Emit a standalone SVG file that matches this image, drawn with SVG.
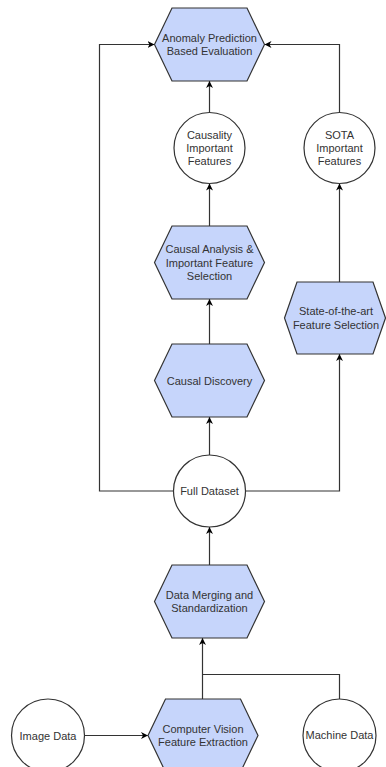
<svg xmlns="http://www.w3.org/2000/svg" width="386" height="767" viewBox="0 0 386 767">
<defs>
<marker id="arr" markerUnits="userSpaceOnUse" markerWidth="8" markerHeight="8" refX="7" refY="3.5" orient="auto">
<path d="M0,0 L7,3.5 L0,7 L2,3.5 Z" fill="#000"/>
</marker>
<style>
.hex{fill:#c6d5fb;stroke:#333;stroke-width:1.2}
.cir{fill:#fff;stroke:#333;stroke-width:1.2}
.lbl{font-family:"Liberation Sans",Arial,sans-serif;font-size:11px;fill:#333;text-anchor:middle}
.edge{fill:none;stroke:#333;stroke-width:1.2}
</style>
</defs>
<rect width="386" height="767" fill="#fff"/>
<g id="connectors">
<path class="edge" d="M209.5,455 V417" marker-end="url(#arr)"/>
<path class="edge" d="M209.5,344 V299" marker-end="url(#arr)"/>
<path class="edge" d="M209.5,226 V183.5" marker-end="url(#arr)"/>
<path class="edge" d="M209.5,112.5 V81" marker-end="url(#arr)"/>
<path class="edge" d="M173.5,491 H99.5 V44.5 H154.5" marker-end="url(#arr)"/>
<path class="edge" d="M245.5,491 H339.5 V354" marker-end="url(#arr)"/>
<path class="edge" d="M339.5,282 V183.5" marker-end="url(#arr)"/>
<path class="edge" d="M339.5,112.5 V44.5 H264.5" marker-end="url(#arr)"/>
<path class="edge" d="M209.5,565 V527" marker-end="url(#arr)"/>
<path class="edge" d="M202.5,699 V638" marker-end="url(#arr)"/>
<path class="edge" d="M339.5,699 V674.5 H202.5"/>
<path class="edge" d="M84.5,735.5 H148" marker-end="url(#arr)"/>
</g>
<g id="anomaly">
<polygon class="hex" points="154.5,44.5 172,8 247,8 264.5,44.5 247,81 172,81"/>
<text class="lbl" x="209.5" y="41.9">Anomaly Prediction</text>
<text class="lbl" x="209.5" y="55.1">Based Evaluation</text>
</g>
<g id="causality-features">
<circle class="cir" cx="209.5" cy="148" r="35.5"/>
<text class="lbl" x="209.5" y="138.8">Causality</text>
<text class="lbl" x="209.5" y="152">Important</text>
<text class="lbl" x="209.5" y="165.2">Features</text>
</g>
<g id="sota-features">
<circle class="cir" cx="339.5" cy="148" r="35.5"/>
<text class="lbl" x="339.5" y="138.8">SOTA</text>
<text class="lbl" x="339.5" y="152">Important</text>
<text class="lbl" x="339.5" y="165.2">Features</text>
</g>
<g id="causal-analysis">
<polygon class="hex" points="154.5,262.5 172,226 247,226 264.5,262.5 247,299 172,299"/>
<text class="lbl" x="209.5" y="253.3">Causal Analysis &amp;</text>
<text class="lbl" x="209.5" y="266.5">Important Feature</text>
<text class="lbl" x="209.5" y="279.7">Selection</text>
</g>
<g id="state-of-the-art">
<polygon class="hex" points="284.5,318 297,282 373,282 385.5,318 373,354 297,354"/>
<text class="lbl" x="336" y="315.4">State-of-the-art</text>
<text class="lbl" x="336" y="328.6">Feature Selection</text>
</g>
<g id="causal-discovery">
<polygon class="hex" points="154.5,380.5 172,344 247,344 264.5,380.5 247,417 172,417"/>
<text class="lbl" x="209.5" y="384.5">Causal Discovery</text>
</g>
<g id="full-dataset">
<circle class="cir" cx="209.5" cy="491" r="36"/>
<text class="lbl" x="209.5" y="495">Full Dataset</text>
</g>
<g id="data-merging">
<polygon class="hex" points="154.5,601.5 172,565 247,565 264.5,601.5 247,638 172,638"/>
<text class="lbl" x="209.5" y="598.9">Data Merging and</text>
<text class="lbl" x="209.5" y="612.1">Standardization</text>
</g>
<g id="computer-vision">
<polygon class="hex" points="148,735.5 165.5,699 240.5,699 258,735.5 240.5,772 165.5,772"/>
<text class="lbl" x="203" y="732.9">Computer Vision</text>
<text class="lbl" x="203" y="746.1">Feature Extraction</text>
</g>
<g id="image-data">
<circle class="cir" cx="48" cy="735.5" r="36.5"/>
<text class="lbl" x="48" y="739.5">Image Data</text>
</g>
<g id="machine-data">
<circle class="cir" cx="339.5" cy="735.5" r="36.5"/>
<text class="lbl" x="339.5" y="738.5">Machine Data</text>
</g>
</svg>
